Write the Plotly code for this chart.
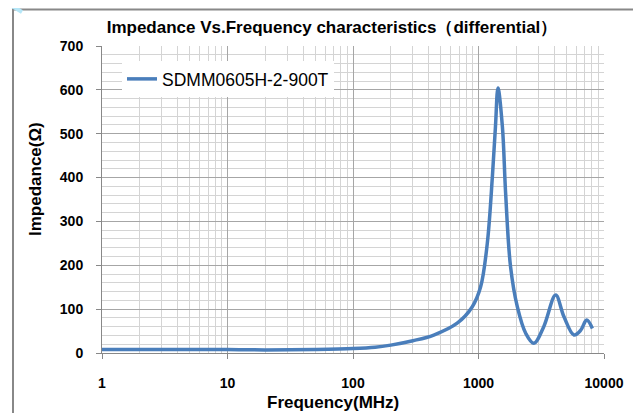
import plotly.graph_objects as go

# Data
freq_mhz = [1, 2, 5, 10, 20, 50, 100, 150, 200, 300, 440, 676, 890, 1040, 1175,
            1290, 1365, 1430, 1550, 1645, 1800, 2040, 2377, 2760, 3310, 4120,
            4790, 5760, 6530, 7270, 8080]
impedance = [8, 8, 8, 8, 7, 8, 10, 13, 18, 28, 41, 68, 105, 151, 250,
             402, 516, 604, 516, 364, 197, 105, 45, 22, 60, 132,
             83, 41, 52, 75, 56]
series_name = "SDMM0605H-2-900T"
x_ticks = [1, 10, 100, 1000, 10000]
x_ticklabels = ["1", "10", "100", "1000", "10000"]

# The page body has an 8px margin, so the figure starts at (8, 8) of the page.
OFF = 8
W, H = 641 - OFF, 413 - OFF
L, R, T, B = 102 - OFF, 37, 46 - OFF, 60
pw, ph = W - L - R, H - T - B

def px(x):  # page x -> paper x
    return (x - OFF - L) / pw

def py(y):  # page y -> paper y
    return 1 - (y - OFF - T) / ph

fig = go.Figure()
fig.add_trace(go.Scatter(
    x=freq_mhz, y=impedance, mode="lines", name=series_name,
    line=dict(color="#4a7ebb", width=3.5, shape="spline", smoothing=1),
))

fig.update_layout(
    width=W, height=H,
    margin=dict(l=L, r=R, t=T, b=B),
    paper_bgcolor="white", plot_bgcolor="white",
    font=dict(family="Liberation Sans", color="black"),
    title=dict(
        text="<b>Impedance Vs.Frequency characteristics（differential）</b>",
        x=(332 - OFF) / W, xanchor="center", xref="container",
        y=1 - (27 - OFF) / H, yanchor="middle", yref="container",
        font=dict(size=17, family="Liberation Sans", color="black"),
    ),
    showlegend=True,
    legend=dict(
        x=px(122), y=py(61), xanchor="left", yanchor="top",
        bgcolor="white", borderwidth=0,
        font=dict(size=17.5, family="Liberation Sans", color="black"),
    ),
    xaxis=dict(
        type="log", range=[0, 4],
        tickvals=x_ticks, ticktext=x_ticklabels,
        tickfont=dict(size=14, family="Liberation Sans", color="black", weight="bold"),
        ticks="outside", ticklen=5, tickcolor="#888", ticklabelstandoff=12,
        showgrid=True, gridcolor="#a6a6a6", gridwidth=1,
        showline=True, linecolor="#888", linewidth=1,
        minor=dict(dtick="D1", showgrid=True, gridcolor="#d4d4d4", gridwidth=1, ticks=""),
        zeroline=False,
    ),
    yaxis=dict(
        range=[0, 700], dtick=100,
        tickfont=dict(size=14, family="Liberation Sans", color="black", weight="bold"),
        ticks="outside", ticklen=5, tickcolor="#888", ticklabelstandoff=10,
        showgrid=True, gridcolor="#a6a6a6", gridwidth=1,
        showline=True, linecolor="#888", linewidth=1,
        minor=dict(dtick=20, showgrid=True, gridcolor="#d4d4d4", gridwidth=1, ticks=""),
        zeroline=False,
    ),
    annotations=[
        dict(text="<b>Impedance(Ω)</b>", xref="paper", yref="paper",
             x=px(35), y=py(179), textangle=-90, showarrow=False,
             xanchor="center", yanchor="middle",
             font=dict(size=17, family="Liberation Sans", color="black")),
        dict(text="<b>Frequency(MHz)</b>", xref="paper", yref="paper",
             x=px(333), y=py(402), showarrow=False,
             xanchor="center", yanchor="middle",
             font=dict(size=17, family="Liberation Sans", color="black")),
    ],
    shapes=[
        dict(type="rect", xref="paper", yref="paper",
             x0=px(13), y0=py(440), x1=px(680), y1=py(9.5),
             line=dict(color="#888888", width=2), fillcolor="rgba(0,0,0,0)", layer="above"),
        dict(type="line", xref="paper", yref="paper",
             x0=px(2), y0=py(0), x1=px(22), y1=py(12),
             line=dict(color="#b5e6f7", width=4), layer="above"),
    ],
)

fig.write_html("out.html")
